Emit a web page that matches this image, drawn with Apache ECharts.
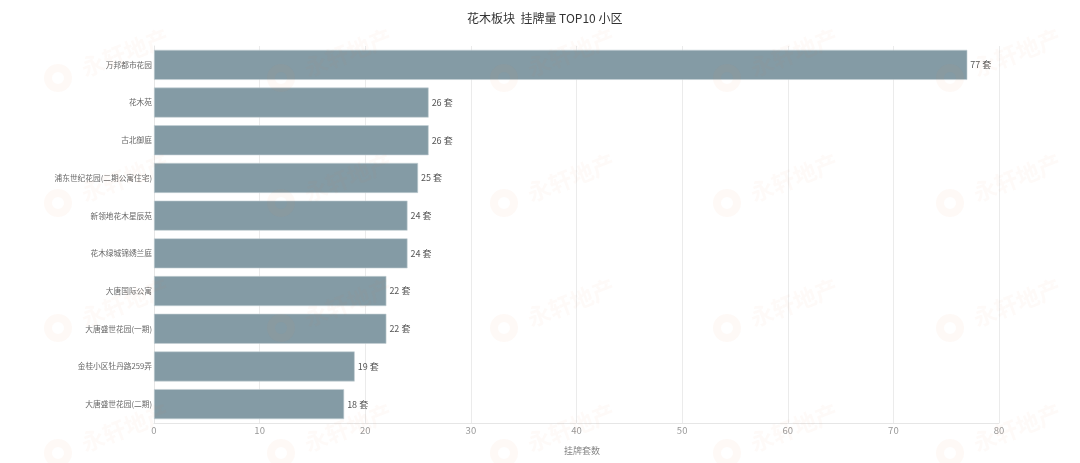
<!DOCTYPE html>
<html>
<head>
<meta charset="utf-8">
<style>
    html, body {margin: 0; padding: 0; background: #fff;}
    #chart {width: 1080px; height: 463px;}
</style>
<script src="https://cdn.jsdelivr.net/npm/echarts@6/dist/echarts.min.js"></script>
</head>
<body>
<div id="chart"></div>
<script>
var categories = ['万邦都市花园', '花木苑', '古北御庭', '浦东世纪花园(二期公寓住宅)', '新领地花木星辰苑',
    '花木绿城锦绣兰庭', '大唐国际公寓', '大唐盛世花园(一期)', '金桂小区牡丹路259弄', '大唐盛世花园(二期)'];
var listings = [77, 26, 26, 25, 24, 24, 22, 22, 19, 18];
var axisTicks = [0, 10, 20, 30, 40, 50, 60, 70, 80];
var titleText = '花木板块  挂牌量 TOP10 小区';
var axisName = '挂牌套数';
var unit = ' 套';
var watermarkText = '永轩地产';

var font = '"Noto Sans CJK SC", "Noto Sans", sans-serif';

// 水印，铺满整张图
var watermarks = [];
for (var r = 0; r < 4; r++) {
    for (var c = 0; c < 5; c++) {
        var wx = 58 + c * 223, wy = 78 + r * 125;
        watermarks.push({
            type: 'circle', silent: true, z: 20,
            shape: {cx: wx, cy: wy, r: 10},
            style: {fill: 'none', stroke: 'rgba(240,130,70,0.05)', lineWidth: 8}
        });
        watermarks.push({
            type: 'text', silent: true, z: 20,
            x: wx + 24, y: wy - 9, rotation: 21 * Math.PI / 180,
            style: {
                text: watermarkText, fill: 'rgba(240,120,70,0.04)',
                font: 'bold 23px ' + font, textVerticalAlign: 'middle'
            }
        });
    }
}

var chart = echarts.init(document.getElementById('chart'), null, {renderer: 'canvas'});
chart.setOption({
    animation: false,
    textStyle: {fontFamily: font},
    title: {
        text: titleText,
        left: 462, top: 7,
        textStyle: {fontSize: 12, fontWeight: 'normal', color: '#333', fontFamily: font}
    },
    grid: {left: 154, right: 81, top: 46, bottom: 40},
    xAxis: {
        type: 'value', min: 0, max: axisTicks[axisTicks.length - 1], interval: axisTicks[1] - axisTicks[0],
        name: axisName, nameLocation: 'middle', nameGap: 23,
        nameTextStyle: {fontSize: 9, color: '#888', padding: [0, 0, 0, 11]},
        axisLine: {show: true, lineStyle: {color: '#e6e6e6'}},
        axisTick: {show: false},
        axisLabel: {fontSize: 9.5, color: '#999', margin: 3},
        splitLine: {show: true, lineStyle: {color: '#ebebeb', width: 1}}
    },
    yAxis: {
        type: 'category', data: categories, inverse: true,
        axisLine: {show: true, lineStyle: {color: '#e6e6e6'}},
        axisTick: {show: false},
        axisLabel: {fontSize: 7.7, color: '#666', margin: 2}
    },
    series: [{
        type: 'bar', data: listings, barWidth: 30,
        itemStyle: {color: '#849ba5', borderColor: '#c4d0d5', borderWidth: 0.6},
        label: {
            show: true, position: 'right', distance: 3, fontSize: 9, color: '#555',
            formatter: function (p) { return p.value + unit; }
        }
    }],
    graphic: watermarks
});
</script>
</body>
</html>
